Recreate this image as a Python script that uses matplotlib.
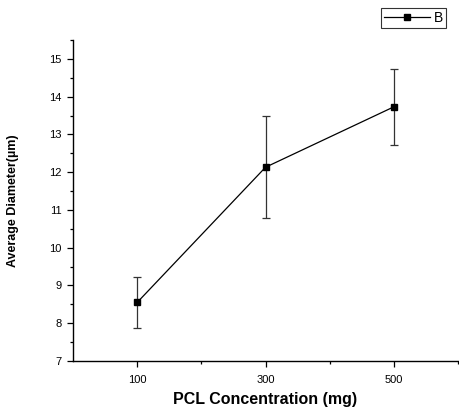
import matplotlib
matplotlib.use("Agg")
import matplotlib.pyplot as plt
from matplotlib.ticker import MultipleLocator, FixedLocator

plt.rcParams['font.family'] = ['Liberation Sans', 'DejaVu Sans']

conc = [100, 300, 500]
diam = [8.55, 12.13, 13.73]
err = [0.67, 1.35, 1.01]
xticks = [100, 300, 500]

fig = plt.figure(figsize=(4.59, 4.17), dpi=100)
ax = fig.add_axes([73/459, 1-361/417, (458-73)/459, (361-40)/417])
ax.errorbar(conc, diam, yerr=err, fmt='none', capsize=3, elinewidth=0.9,
            capthick=0.9, ecolor='#333333')
ax.plot(conc, diam, color='black', lw=0.9, marker='s', ms=5, label='B')
ax.set_xlim(0, 600)
ax.set_ylim(7, 15.5)
ax.xaxis.set_major_locator(FixedLocator(xticks))
ax.xaxis.set_minor_locator(FixedLocator([200, 400, 600]))
ax.yaxis.set_major_locator(MultipleLocator(1))
ax.yaxis.set_minor_locator(MultipleLocator(0.5))
for s in ['top', 'right']:
    ax.spines[s].set_visible(False)
for s in ['left', 'bottom']:
    ax.spines[s].set_linewidth(1.0)
ax.tick_params(which='major', direction='out', length=4, width=0.9, labelsize=8, pad=4)
ax.tick_params(which='minor', direction='out', length=2.5, width=0.9)
ax.tick_params(axis='x', which='major', pad=6)
ax.set_xlabel('PCL Concentration (mg)', fontsize=11.5, fontweight='bold', labelpad=5)
ax.set_ylabel('Average Diameter(\u00b5m)', fontsize=9, fontweight='bold', labelpad=22)
leg = ax.legend(loc='upper right', bbox_to_anchor=(446/459, 1-8/417), bbox_transform=fig.transFigure,
                frameon=True, fancybox=False, edgecolor='black', fontsize=10,
                handlelength=3.3, handletextpad=0.3, borderpad=0.2, borderaxespad=0)
leg.get_frame().set_linewidth(0.8)
fig.savefig('out.png', dpi=100)
